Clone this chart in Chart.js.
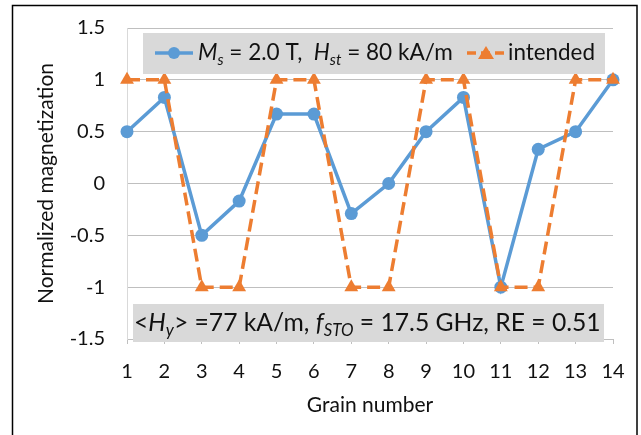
<!DOCTYPE html>
<html>
<head>
<meta charset="utf-8">
<script src="https://cdn.jsdelivr.net/npm/chart.js@4.4.0/dist/chart.umd.min.js"></script>
<style>
  html, body { margin: 0; padding: 0; background: #fff; }
  #wrap { width: 641px; height: 435px; position: relative; }
</style>
</head>
<body>
<div id="wrap"><canvas id="chart" width="641" height="435"></canvas></div>
<script>
// chart data
const grains = ['1', '2', '3', '4', '5', '6', '7', '8', '9', '10', '11', '12', '13', '14'];
const msValues = [0.5, 0.83, -0.5, -0.17, 0.67, 0.67, -0.29, 0, 0.5, 0.83, -1, 0.33, 0.5, 1];
const intendedValues = [1, 1, -1, -1, 1, 1, -1, -1, 1, 1, -1, -1, 1, 1];
const yTicks = [-1.5, -1, -0.5, 0, 0.5, 1, 1.5];

// rich text pieces (italic / subscript) for legend and note
const msLabel = [
  { t: 'M', it: true }, { t: 's', it: true, sub: true },
  { t: ' = 2.0 T,  ' }, { t: 'H', it: true }, { t: 'st', it: true, sub: true },
  { t: ' = 80 kA/m' }
];
const intendedLabel = [{ t: 'intended' }];
const noteLabel = [
  { t: '<' }, { t: 'H', it: true }, { t: 'y', it: true, sub: true },
  { t: '> =77 kA/m, ' }, { t: 'f', it: true }, { t: 'STO', it: true, sub: true },
  { t: ' = 17.5 GHz, RE = 0.51' }
];

const BLUE = '#5b9bd5';
const ORANGE = '#ed7d31';
const FONT = 'Lato, "Open Sans", sans-serif';
const TEXT = '#111';

function setFont(ctx, part, size) {
  const s = part.sub ? size * 0.68 : size;
  ctx.font = (part.it ? 'italic ' : '') + s + 'px ' + FONT;
}

function richWidth(ctx, parts, size) {
  let w = 0;
  parts.forEach(p => { setFont(ctx, p, size); w += ctx.measureText(p.t).width; });
  return w;
}

// draws rich text so it fills [x0, x1], vertically centred on cy
function drawRich(ctx, parts, x0, x1, cy, baseSize) {
  const size = baseSize * (x1 - x0) / richWidth(ctx, parts, baseSize);
  let x = x0;
  ctx.textBaseline = 'middle';
  ctx.textAlign = 'left';
  ctx.fillStyle = TEXT;
  parts.forEach(p => {
    setFont(ctx, p, size);
    ctx.fillText(p.t, x, p.sub ? cy + size * 0.3 : cy);
    x += ctx.measureText(p.t).width;
  });
}

const boxesPlugin = {
  id: 'boxes',
  beforeDraw(chart) {
    const ctx = chart.ctx;
    ctx.save();
    ctx.fillStyle = '#fff';
    ctx.fillRect(0, 0, chart.width, chart.height);
    ctx.restore();
  },
  afterDraw(chart) {
    const ctx = chart.ctx;
    ctx.save();

    // legend box
    ctx.fillStyle = '#d9d9d9';
    ctx.fillRect(143, 33, 462, 41);
    const ly = 53;
    ctx.strokeStyle = BLUE;
    ctx.lineWidth = 3.5;
    ctx.beginPath(); ctx.moveTo(155, ly); ctx.lineTo(193, ly); ctx.stroke();
    ctx.fillStyle = BLUE;
    ctx.beginPath(); ctx.arc(174, ly, 6, 0, Math.PI * 2); ctx.fill();
    drawRich(ctx, msLabel, 198, 453, ly, 22);

    ctx.strokeStyle = ORANGE;
    ctx.setLineDash([9, 5]);
    ctx.beginPath(); ctx.moveTo(467, ly); ctx.lineTo(505, ly); ctx.stroke();
    ctx.setLineDash([]);
    ctx.fillStyle = ORANGE;
    ctx.beginPath(); ctx.moveTo(486, ly - 7); ctx.lineTo(494, ly + 6); ctx.lineTo(478, ly + 6); ctx.closePath(); ctx.fill();
    drawRich(ctx, intendedLabel, 508, 595, ly, 22);

    // note box
    ctx.fillStyle = '#d9d9d9';
    ctx.fillRect(133, 304, 471, 38);
    drawRich(ctx, noteLabel, 134, 601, 323, 23);

    // outer frame
    ctx.strokeStyle = '#000';
    ctx.lineWidth = 1.5;
    ctx.strokeRect(12.5, 5.5, 624.5, 440);
    ctx.restore();
  }
};

const ctx = document.getElementById('chart').getContext('2d');
new Chart(ctx, {
  type: 'line',
  data: {
    labels: grains,
    datasets: [
      {
        label: 'Ms = 2.0 T, Hst = 80 kA/m',
        data: msValues,
        borderColor: BLUE,
        backgroundColor: BLUE,
        borderWidth: 3.5,
        pointRadius: 6.5,
        pointStyle: 'circle',
        pointBorderWidth: 0,
        tension: 0,
        clip: false,
        order: 2
      },
      {
        label: 'intended',
        data: intendedValues,
        borderColor: ORANGE,
        backgroundColor: ORANGE,
        borderWidth: 3.5,
        borderDash: [13, 6],
        pointStyle: 'triangle',
        pointRadius: 8,
        pointBorderWidth: 0,
        tension: 0,
        clip: false,
        order: 1
      }
    ]
  },
  options: {
    responsive: false,
    animation: false,
    events: [],
    layout: { padding: { left: 30, right: 28, top: 28, bottom: 13 } },
    plugins: {
      legend: { display: false },
      tooltip: { enabled: false }
    },
    scales: {
      x: {
        type: 'category',
        offset: false,
        grid: { display: true, drawOnChartArea: false, drawTicks: true, tickLength: 5, color: '#bfbfbf' },
        border: { display: true, color: '#bfbfbf', width: 1 },
        ticks: { color: TEXT, font: { family: FONT, size: 20 }, padding: 16, maxRotation: 0, autoSkip: false },
        title: { display: true, text: 'Grain number', color: TEXT, font: { family: FONT, size: 21 }, padding: { top: 4, bottom: 4 } },
        afterFit: s => { s.height = 83; s.paddingLeft = 0; s.paddingRight = 0; }
      },
      y: {
        min: -1.5,
        max: 1.5,
        afterBuildTicks: s => { s.ticks = yTicks.map(v => ({ value: v })); },
        grid: { color: '#bfbfbf', lineWidth: 1, drawTicks: false },
        border: { display: true, color: '#d9d9d9', width: 1 },
        ticks: { color: TEXT, font: { family: FONT, size: 20 }, padding: 22, callback: v => String(v) },
        title: { display: true, text: 'Normalized magnetization', color: TEXT, font: { family: FONT, size: 21 }, padding: { top: 4, bottom: 4 } },
        afterFit: s => { s.width = 97; s.paddingTop = 0; s.paddingBottom = 0; }
      }
    }
  },
  plugins: [boxesPlugin]
});
</script>
</body>
</html>
